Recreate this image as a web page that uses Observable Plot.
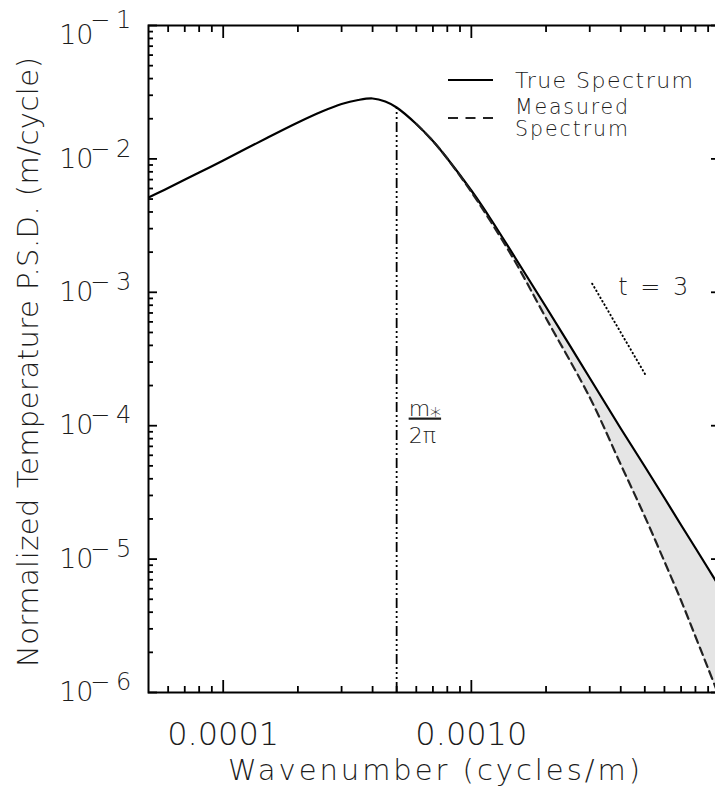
<!DOCTYPE html>
<html><head><meta charset="utf-8">
<script src="https://cdn.jsdelivr.net/npm/d3@7"></script>
<script src="https://cdn.jsdelivr.net/npm/@observablehq/plot@0.6"></script>
<style>
body{margin:0;background:#fff;}
#wrap{position:relative;width:715px;height:800px;overflow:hidden;background:#fff;}
#legend{position:absolute;left:0;top:0;pointer-events:none;}
</style></head><body><div id="wrap"></div>
<script>
// ---- data ----
const trueX = [5e-5, 6e-5, 8e-5, 1e-4, 1.5e-4, 2e-4, 2.5e-4, 3e-4, 3.5e-4, 4e-4, 4.5e-4, 5e-4, 6e-4, 7e-4, 8e-4, 1e-3, 1.2e-3, 1.5e-3, 2e-3, 3e-3, 4e-3, 5e-3, 6e-3, 7e-3, 8e-3, 9e-3, 1e-2];
const trueY = [5.14e-3, 6.05e-3, 7.91e-3, 9.73e-3, 1.435e-2, 1.875e-2, 2.266e-2, 2.58e-2, 2.764e-2, 2.836e-2, 2.693e-2, 2.428e-2, 1.827e-2, 1.362e-2, 1.007e-2, 5.795e-3, 3.514e-3, 1.823e-3, 7.757e-4, 2.279e-4, 9.53e-5, 4.944e-5, 2.871e-5, 1.801e-5, 1.211e-5, 8.50e-6, 6.18e-6];
const measX = [6e-4, 7e-4, 8e-4, 1e-3, 1.2e-3, 1.5e-3, 2e-3, 3e-3, 4e-3, 5e-3, 6e-3, 7e-3, 8e-3, 9e-3, 1e-2];
const measY = [1.827e-2, 1.362e-2, 1.007e-2, 5.647e-3, 3.365e-3, 1.701e-3, 6.40e-4, 1.63e-4, 5.118e-5, 2.086e-5, 9.594e-6, 4.894e-6, 2.629e-6, 1.513e-6, 9.17e-7];
const mStar = [5e-4];          // m*/2π (cycles/m)
const mStarTop = [2.428e-2];   // where the marker line meets the curve
const mLabelY = [1.094e-4];
const slopeX = [3.07e-3, 5.05e-3];
const slopeY = [1.16e-3, 2.38e-4];
const slopeLabel = ["t = 3"];
const xMajor = [1e-4, 1e-3];
const xTickLabels = ["0.0001", "0.0010"];
const yMajor = [1e-1, 1e-2, 1e-3, 1e-4, 1e-5, 1e-6];
const yTickBase = "10";
const yTickSup = ["\u22121", "\u22122", "\u22123", "\u22124", "\u22125", "\u22126"];
const legendLabels = ["True Spectrum", "Measured", "Spectrum"];
const xTitle = "Wavenumber (cycles/m)";
const yTitle = "Normalized Temperature P.S.D. (m/cycle)";

// minor tick positions (2..9 per decade)
const xMinor = [];
for (const e of [-5, -4, -3]) for (let k = 2; k <= 9; k++) { const v = k * Math.pow(10, e); if (v > 5.01e-5 && v < 0.0099) xMinor.push(v); }
const yMinor = [];
for (const e of [-6, -5, -4, -3, -2]) for (let k = 2; k <= 9; k++) yMinor.push(k * Math.pow(10, e));

const FONT = "'DejaVu Sans', sans-serif";
const TXT = "#1c1c1c";

const trueData = trueX.map((x, i) => ({x, y: trueY[i]}));
const measData = measX.map((x, i) => ({x, y: measY[i]}));
const band = measX.map((x, i) => ({x, m: measY[i], t: trueY[trueX.indexOf(x)]}));
const slopeData = slopeX.map((x, i) => ({x, y: slopeY[i]}));

const tk = {fill: "none", strokeWidth: 1.8};

const chart = Plot.plot({
  width: 720, height: 800,
  marginLeft: 148, marginRight: 1, marginTop: 25, marginBottom: 108,
  style: {fontFamily: FONT, fontWeight: 200, background: "white", maxWidth: "none", color: "#000"},
  x: {type: "log", domain: [5e-5, 1e-2]},
  y: {type: "log", domain: [1e-6, 1e-1]},
  marks: [
    Plot.areaY(band, {x: "x", y1: "m", y2: "t", fill: "#e5e5e5", curve: "catmull-rom", clip: true}),
    Plot.ruleX(mStar, {x: d => d, y1: () => 1e-6, y2: (d, i) => mStarTop[i], stroke: "#000", strokeWidth: 1.8, strokeDasharray: "10 3 2 3 2 3 2 3"}),
    Plot.line(trueData, {x: "x", y: "y", stroke: "#000", strokeWidth: 2.2, curve: "catmull-rom", clip: true}),
    Plot.line(measData, {x: "x", y: "y", stroke: "#222", strokeWidth: 2.2, strokeDasharray: "8 5", curve: "catmull-rom", clip: true}),
    Plot.line(slopeData, {x: "x", y: "y", stroke: "#000", strokeWidth: 2, strokeDasharray: "0.5 3.5", strokeLinecap: "round"}),
    Plot.text(slopeData.slice(0, 1), {x: "x", y: "y", text: (d, i) => slopeLabel[i], textAnchor: "start", dx: 26, dy: 4, fontSize: 24, fill: TXT}),
    Plot.text(mStar, {x: d => d, y: (d, i) => mLabelY[i], text: () => "m\u204E", textAnchor: "start", dx: 12, dy: -12, fontSize: 22, fill: TXT}),
    Plot.text(mStar, {x: d => d, y: (d, i) => mLabelY[i], text: () => "2\u03C0", textAnchor: "start", dx: 12, dy: 15, fontSize: 22, fill: TXT}),
    Plot.frame({stroke: "#000", strokeWidth: 2}),
    Plot.axisX({anchor: "bottom", ticks: xMajor, tickSize: -12, ...tk}),
    Plot.axisX({anchor: "bottom", ticks: xMinor, tickSize: -6, ...tk}),
    Plot.axisX({anchor: "top", ticks: xMajor, tickSize: -12, ...tk}),
    Plot.axisX({anchor: "top", ticks: xMinor, tickSize: -6, ...tk}),
    Plot.axisY({anchor: "left", ticks: yMajor, tickSize: -9, ...tk}),
    Plot.axisY({anchor: "left", ticks: yMinor, tickSize: -5, ...tk}),
    Plot.axisY({anchor: "right", ticks: yMajor, tickSize: -9, ...tk}),
    Plot.axisY({anchor: "right", ticks: yMinor, tickSize: -5, ...tk}),
    Plot.text(xMajor, {x: d => d, frameAnchor: "bottom", text: (d, i) => xTickLabels[i], fontSize: 32, lineAnchor: "top", dy: 30, fill: TXT}),
    Plot.text(yMajor.slice(1), {y: d => d, frameAnchor: "left", text: () => yTickBase, textAnchor: "end", dx: -55, fontSize: 27, fill: TXT}),
    Plot.text(yMajor.slice(0, 1), {y: d => d, frameAnchor: "left", text: () => yTickBase, textAnchor: "end", dx: -55, dy: 10, fontSize: 27, fill: TXT}),
    Plot.text(yMajor.slice(1), {y: d => d, frameAnchor: "left", text: (d, i) => yTickSup[i + 1], textAnchor: "start", dx: -58.5, dy: -10, fontSize: 24, fill: TXT}),
    Plot.text(yMajor.slice(0, 1), {y: d => d, frameAnchor: "left", text: (d, i) => yTickSup[i], textAnchor: "start", dx: -58.5, dy: -5, fontSize: 24, fill: TXT}),
    Plot.text([xTitle], {frameAnchor: "bottom", text: d => d, dy: 87, fontSize: 29, fill: TXT}),
    Plot.text([yTitle], {frameAnchor: "left", text: d => d, rotate: -90, textAnchor: "start", dx: -120, dy: 308, fontSize: 29, fill: TXT})
  ]
});

const wrap = document.getElementById("wrap");
wrap.appendChild(chart);

// text fine-tuning
const s = d3.select(chart);
s.selectAll("text").each(function () {
  const t = this.textContent;
  if (t === xTitle) d3.select(this).attr("textLength", 412).attr("lengthAdjust", "spacing");
  else if (t === yTitle) d3.select(this).attr("textLength", 610).attr("lengthAdjust", "spacing");
  else if (yTickSup.includes(t)) d3.select(this).style("letter-spacing", "6px");
  else if (t === slopeLabel[0]) d3.select(this).attr("textLength", 70).attr("lengthAdjust", "spacing");
  else if (t === "m\u204E") d3.select(this).style("text-decoration", "underline");
});

// legend overlay
const lg = d3.select(wrap).append("svg").attr("id", "legend").attr("width", 715).attr("height", 800)
  .style("font-family", FONT).style("font-weight", 200);
lg.append("line").attr("x1", 448).attr("x2", 493).attr("y1", 80).attr("y2", 80)
  .attr("stroke", "#000").attr("stroke-width", 2);
lg.append("line").attr("x1", 448).attr("x2", 493).attr("y1", 118).attr("y2", 118)
  .attr("stroke", "#222").attr("stroke-width", 2).attr("stroke-dasharray", "10 7.5");
const lpos = [[88, 178, 22], [114, 113, 20.5], [136, 113, 20.5]];
legendLabels.forEach((t, i) => {
  lg.append("text").attr("x", 515).attr("y", lpos[i][0]).attr("font-size", lpos[i][2]).attr("fill", TXT)
    .attr("textLength", lpos[i][1]).attr("lengthAdjust", "spacing").text(t);
});
</script></body></html>
